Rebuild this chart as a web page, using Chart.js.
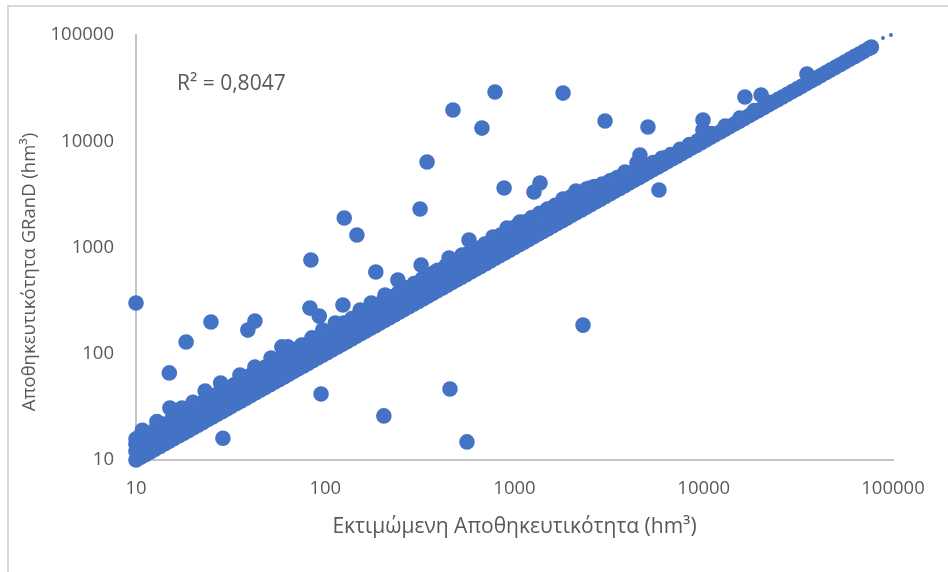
<!DOCTYPE html>
<html lang="el">
<head>
  <meta charset="UTF-8">
  <title>Αποθηκευτικότητα</title>
  <script src="https://cdn.jsdelivr.net/npm/chart.js"></script>
  <style>
    body { margin: 0; background: #ffffff; }
    #wrap { position: relative; width: 948px; height: 572px; overflow: hidden; }
    #wrap::before {
      content: '';
      position: absolute;
      left: 7px;
      top: 5px;
      right: -5px;
      bottom: -5px;
      border: 2px solid #d9d9d9;
    }
    canvas { position: absolute; left: 0; top: 0; }
  </style>
</head>
<body>
  <div id="wrap"><canvas id="capacityChart" width="948" height="572"></canvas></div>

  <script>
    const tickValues = [10, 100, 1000, 10000, 100000];
    const xAxisTitle = 'Εκτιμώμενη Αποθηκευτικότητα (hm³)';
    const yAxisTitle = 'Αποθηκευτικότητα GRanD (hm³)';
    const r2Label = 'R² = 0,8047';

    // points sitting on the 1:1 line (estimated = GRanD)
    const diagonalValues = [10, 10.6, 11.2, 11.9, 12.6, 13.4, 14.2, 15, 15.9, 16.9, 17.9, 19, 20.1, 21.3, 22.6, 24, 25.4, 26.9, 28.5, 30.2, 32, 34, 36, 38.2, 40.5, 42.9, 45.5, 48.2, 51.1, 54.2, 57.4, 60.9, 64.5, 68.4, 72.5, 76.9, 81.5, 86.4, 91.5, 97, 103, 109, 116, 123, 130, 138, 146, 155, 164, 174, 184, 195, 207, 220, 233, 247, 261, 277, 294, 311, 330, 350, 371, 393, 417, 442, 468, 496, 526, 558, 591, 627, 664, 704, 746, 791, 839, 889, 942, 999, 1059, 1122, 1190, 1261, 1337, 1417, 1502, 1592, 1688, 1789, 1896, 2010, 2131, 2259, 2394, 2538, 2690, 2852, 3023, 3204, 3396, 3600, 3816, 4045, 4288, 4545, 4818, 5107, 5414, 5739, 6083, 6448, 6835, 7245, 7680, 8141, 8629, 9147, 9696, 10278, 10894, 11548, 12241, 12975, 13754, 14579, 15454, 16381, 17364, 18406, 19510, 20681, 21922, 23237, 24631, 26109, 27675, 29336, 31096, 32962, 34940, 37036, 39258, 41614, 44111, 46757, 49562, 52536, 55688, 59030, 62571, 66326, 70305, 74523, 76900];

    // body of the band, a little above the 1:1 line
    const bandX = [10, 10, 10.5, 11.3, 12.2, 13.2, 14.3, 15.4, 16.6, 18, 19.4, 21, 22.6, 24.4, 26.4, 28.5, 30.8, 33.2, 35.9, 38.8, 41.9, 45.2, 48.8, 52.7, 57, 61.5, 66.4, 71.7, 77.5, 83.7, 90.4, 97.6, 105, 114, 123, 133, 144, 155, 168, 181, 195, 211, 228, 246, 266, 287, 310, 335, 362, 391, 422, 456, 492, 532, 574, 620, 670, 723, 781, 844, 911, 984, 1063, 1148, 1240, 1339, 1446, 1562, 1687, 1822, 1968, 2125, 2295, 2479, 2677, 2892, 3123, 3373, 3643, 3934, 4249, 4589, 4956, 5400, 6000, 6700, 7500, 8400, 9300, 11000, 13000, 15500, 18500, 22000];
    const bandY = [12, 14, 13.4, 14.5, 15.6, 16.9, 18.3, 19.7, 21.3, 23, 24.8, 26.9, 28.9, 31.2, 33.8, 36.5, 39.4, 42.5, 46, 49.7, 53.6, 57.9, 62.5, 67.5, 73, 78.7, 85, 91.8, 99.2, 107, 116, 125, 134, 146, 157, 170, 184, 198, 215, 232, 250, 270, 292, 315, 340, 367, 397, 429, 463, 500, 540, 584, 630, 681, 735, 794, 858, 925, 1000, 1080, 1166, 1260, 1360, 1470, 1587, 1714, 1851, 1999, 2159, 2332, 2519, 2720, 2938, 3173, 3427, 3700, 3950, 4200, 4500, 4800, 5130, 5500, 5900, 6300, 6900, 7500, 8400, 9300, 10100, 11800, 13900, 16500, 19500, 23200];

    // second row of the band, just under the top edge
    const topRowX = [11.5, 12.7, 14, 15.4, 16.9, 18.6, 20.5, 22.5, 24.8, 27.2, 30, 33, 36.3, 39.9, 43.9, 48.3, 53.1, 58.5, 64.3, 70.7, 77.8, 85.6, 94.2, 104, 114, 125, 138, 152, 167, 183, 202, 222, 244, 269, 295, 325, 358, 393, 433, 476, 523, 576, 633, 697, 766, 843, 927, 1020, 1122, 1234, 1358, 1494, 1643, 1807, 1988, 2187, 2405, 2646, 2910, 3200, 3500, 3900];
    const topRowY = [17.5, 19.7, 21.7, 23.9, 26.2, 28.8, 31.8, 34.9, 38.4, 42.2, 46.5, 51, 56, 62, 68, 75, 82, 91, 100, 110, 121, 133, 146, 161, 177, 194, 214, 236, 259, 284, 313, 344, 378, 417, 457, 504, 555, 609, 671, 738, 811, 893, 981, 1080, 1187, 1307, 1437, 1581, 1739, 1910, 2100, 2300, 2500, 2750, 3000, 3300, 3550, 3750, 3950, 4250, 4550, 5000];

    // bumps along the top edge of the band
    const upperX = [10, 10.8, 12.9, 15.1, 17.5, 20, 23.2, 28, 35.4, 42.5, 51.7, 59, 63.5, 75, 85, 97, 113, 153, 175, 207, 242, 380, 451, 528, 770, 913, 1069, 1348, 1578, 1805, 2113, 2506, 2864, 3312, 3837, 4437];
    const upperY = [15.8, 19, 23, 30.8, 30.8, 35, 44.6, 53, 63, 75, 91, 116, 116, 121, 141, 167, 195, 258, 300, 357, 494, 588, 796, 850, 1255, 1526, 1738, 1815, 2353, 2860, 3405, 3630, 3793, 4316, 5140, 6240];

    // isolated points away from the band
    const outlierX = [10, 15, 18.4, 24.9, 39, 42.5, 28.8, 95, 204, 456, 561, 2302, 84, 83, 93, 124, 126, 147, 185, 321, 317, 345, 473, 673, 789, 881, 1805, 3009, 5073, 5800, 9910, 9900, 16500, 20100, 35100, 1364, 1267, 4600, 6170, 575];
    const outlierY = [300, 66, 129, 199, 167, 203, 16, 41.8, 26, 46.6, 14.8, 186, 762, 269, 226, 288, 1896, 1311, 588, 684, 2303, 6380, 19700, 13300, 29100, 3630, 28400, 15500, 13600, 3480, 15850, 12760, 26100, 27200, 43000, 4040, 3330, 7420, 6950, 1175];

    // dotted trendline tail past the last marker
    const trendX = [88500, 97500];
    const trendY = [93700, 100000];

    const toPoints = (xs, ys) => xs.map((x, i) => ({ x: x, y: ys[i] }));

    const blue = '#4472c4';
    const textColor = '#595959';
    const fontFamily = '"Open Sans", sans-serif';

    const dotSet = (data, radius) => ({
      data: data,
      pointRadius: radius,
      pointHoverRadius: radius,
      pointBorderWidth: 0,
      backgroundColor: blue,
      clip: false
    });

    // y title sits lower than the axis centre, R² label sits inside the plot
    const extraText = {
      id: 'extraText',
      afterDraw(chart) {
        const ctx = chart.ctx;
        ctx.save();
        ctx.fillStyle = textColor;
        ctx.font = '21px ' + fontFamily;
        ctx.textAlign = 'left';
        ctx.textBaseline = 'middle';
        ctx.fillText(r2Label, 177, 84);
        ctx.font = '18.5px ' + fontFamily;
        ctx.translate(30, 272);
        ctx.rotate(-Math.PI / 2);
        ctx.textAlign = 'center';
        ctx.fillText(yAxisTitle, 0, 0);
        ctx.restore();
      }
    };

    const axis = (isX) => ({
      type: 'logarithmic',
      min: 10,
      max: 100000,
      afterBuildTicks(scale) {
        scale.ticks = tickValues.map(v => ({ value: v }));
      },
      afterFit(scale) {
        if (isX) scale.height = 80;
        else scale.width = 136;
      },
      grid: { display: false },
      border: { display: true, color: '#c4c4c4', width: 2 },
      ticks: {
        color: textColor,
        font: { family: fontFamily, size: 18.5 },
        padding: isX ? 10 : 14,
        maxRotation: 0,
        autoSkip: false,
        callback: v => String(v)
      },
      title: isX ? {
        display: true,
        text: xAxisTitle,
        color: textColor,
        font: { family: fontFamily, size: 21 },
        padding: { top: 10, bottom: 0 }
      } : { display: false }
    });

    new Chart(document.getElementById('capacityChart').getContext('2d'), {
      type: 'scatter',
      data: {
        datasets: [
          dotSet(toPoints(trendX, trendY), 2),
          dotSet(toPoints(outlierX, outlierY), 7.8),
          dotSet(toPoints(upperX, upperY), 7.8),
          dotSet(toPoints(topRowX, topRowY), 7.8),
          dotSet(toPoints(bandX, bandY), 7.8),
          dotSet(toPoints(diagonalValues, diagonalValues), 7.8)
        ]
      },
      options: {
        responsive: false,
        animation: false,
        layout: { padding: { left: 0, right: 55, top: 35, bottom: 32 } },
        plugins: {
          legend: { display: false },
          tooltip: { enabled: false }
        },
        scales: { x: axis(true), y: axis(false) }
      },
      plugins: [extraText]
    });
  </script>
</body>
</html>
